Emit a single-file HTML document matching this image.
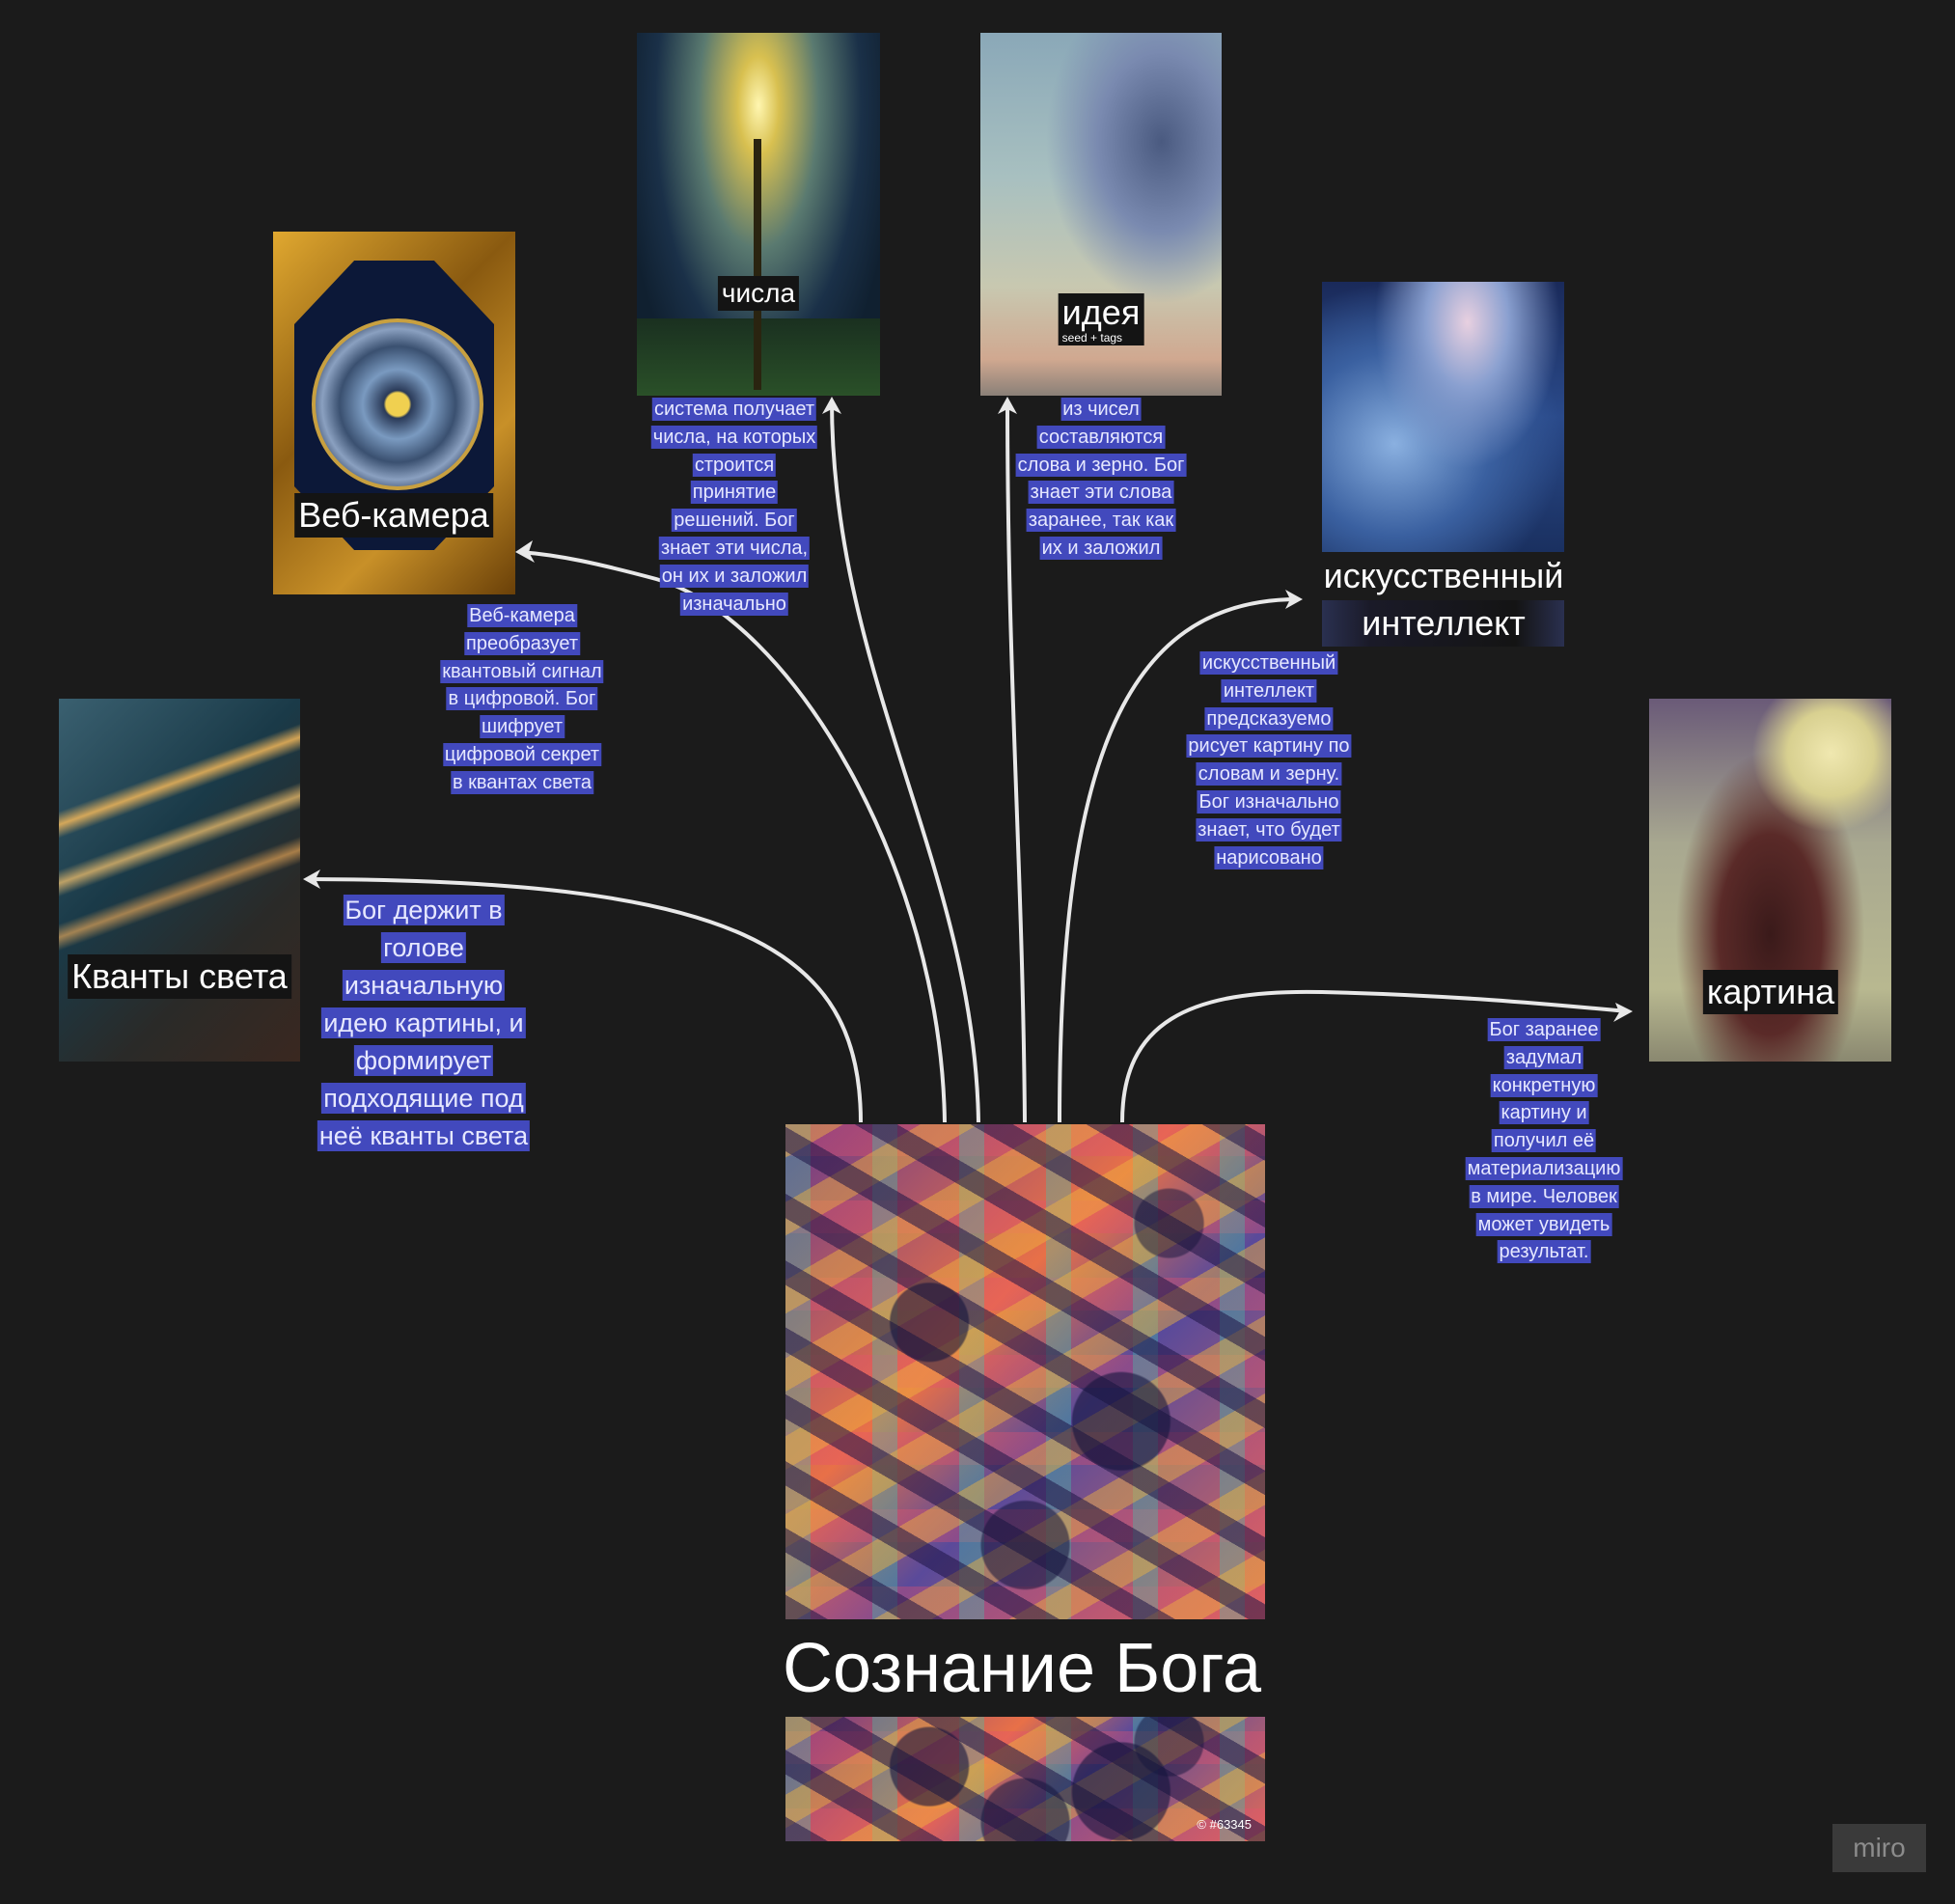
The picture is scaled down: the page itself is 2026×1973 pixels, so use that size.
<!DOCTYPE html>
<html><head><meta charset="utf-8">
<style>
html,body{margin:0;padding:0;}
body{width:2026px;height:1973px;background:#1b1b1b;position:relative;overflow:hidden;font-family:"Liberation Sans","DejaVu Sans",sans-serif;}
.img{position:absolute;overflow:hidden;}
.note{position:absolute;text-align:center;font-size:20px;line-height:28.8px;color:#e6e8ff;transform:translateX(-50%);white-space:nowrap;}
.note span{background:#4249bd;padding:1px 2px;box-decoration-break:clone;-webkit-box-decoration-break:clone;}
.big{font-size:27px;line-height:39px;}
.lab{position:absolute;transform:translate(-50%,-50%);background:#141414;color:#fff;font-size:36px;padding:0 4px;white-space:nowrap;line-height:46px;}
.cubes{background:
 radial-gradient(circle at 30% 40%,rgba(20,20,60,.6) 0 40px,transparent 42px),
 radial-gradient(circle at 70% 60%,rgba(20,20,60,.6) 0 50px,transparent 52px),
 radial-gradient(circle at 50% 85%,rgba(20,20,60,.55) 0 45px,transparent 47px),
 radial-gradient(circle at 80% 20%,rgba(20,20,60,.5) 0 35px,transparent 37px),
 repeating-linear-gradient(30deg,rgba(30,20,70,.55) 0 22px,transparent 22px 60px),
 repeating-linear-gradient(150deg,rgba(240,180,60,.45) 0 30px,transparent 30px 70px),
 repeating-linear-gradient(90deg,rgba(60,200,170,.35) 0 26px,transparent 26px 90px),
 repeating-linear-gradient(0deg,rgba(230,80,110,.35) 0 34px,transparent 34px 80px),
 linear-gradient(135deg,#6a3a8a,#e87048 40%,#5a4a9a 60%,#e06a58);}
</style></head><body>

<div class="img" style="left:283px;top:240px;width:251px;height:376px;background:linear-gradient(135deg,#e0a830,#8a5a10 40%,#c89028 70%,#6a4008);">
  <div style="position:absolute;left:22px;top:30px;width:207px;height:300px;background:#0c1838;clip-path:polygon(30% 0,70% 0,100% 22%,100% 78%,70% 100%,30% 100%,0 78%,0 22%);"></div>
  <div style="position:absolute;left:40px;top:90px;width:170px;height:170px;border-radius:50%;background:radial-gradient(circle,#f0d050 0 10%,#2a3a58 12%,#7a9ac0 30%,#3a5070 50%,#8aa0c0 65%,#2a3a58 80%);border:4px solid #c8a040;"></div>
</div>
<div class="lab" style="left:408px;top:534px;">Веб-камера</div>

<div class="img" style="left:660px;top:34px;width:252px;height:376px;background:radial-gradient(ellipse at 50% 20%,#fff6b0 0,#d8c050 12%,#5a7a70 35%,#1a3048 60%,#102030 80%),#102030;">
  <div style="position:absolute;left:0;right:0;bottom:0;height:80px;background:linear-gradient(#1a3020,#2a5028);"></div>
  <div style="position:absolute;left:121px;top:110px;width:8px;height:260px;background:#2a2410;"></div>
</div>
<div class="lab" style="left:786px;top:304px;font-size:28px;line-height:36px;">числа</div>

<div class="img" style="left:1016px;top:34px;width:250px;height:376px;background:radial-gradient(ellipse at 75% 30%,#4a5a80 0,#7a8ab0 25%,transparent 45%),linear-gradient(180deg,#8aa8b8,#a8c0c0 40%,#c8c8b0 70%,#d0a890 90%,#8a8078);"></div>
<div class="lab" style="left:1141px;top:331px;padding-bottom:14px;line-height:40px;">идея<div style="font-size:12px;line-height:12px;position:absolute;left:4px;bottom:2px;">seed + tags</div></div>

<div class="img" style="left:1370px;top:292px;width:251px;height:280px;background:radial-gradient(ellipse at 60% 15%,#e8d0e0 0,#8aa0d0 20%,transparent 45%),radial-gradient(ellipse at 30% 60%,#8ab0e0 0,#3a60a0 40%,transparent 70%),linear-gradient(#1a2a5a,#2a4a8a 50%,#1a3060);"></div>
<div style="position:absolute;left:1496px;top:597px;transform:translate(-50%,-50%);color:#fff;font-size:36px;white-space:nowrap;">искусственный</div>
<div style="position:absolute;left:1370px;top:622px;width:251px;height:48px;background:linear-gradient(90deg,#2a3050,#1a1a28 20%,#141414 80%,#2a3050);"></div>
<div style="position:absolute;left:1496px;top:646px;transform:translate(-50%,-50%);color:#fff;font-size:36px;white-space:nowrap;">интеллект</div>

<div class="img" style="left:61px;top:724px;width:250px;height:376px;background:linear-gradient(160deg,transparent 25%,rgba(255,190,90,.8) 28%,transparent 31%,transparent 38%,rgba(255,200,110,.7) 41%,transparent 44%,transparent 50%,rgba(255,180,90,.6) 53%,transparent 56%),linear-gradient(135deg,#3a6070,#1a3a48 40%,#2a2a28 70%,#3a2820);"></div>
<div class="lab" style="left:186px;top:1012px;">Кванты света</div>

<div class="img" style="left:1709px;top:724px;width:251px;height:376px;background:radial-gradient(circle at 75% 15%,#f0e8b0 0,#d8d090 12%,transparent 22%),radial-gradient(ellipse at 50% 65%,#3a1a1a 0,#5a2a28 30%,transparent 55%),linear-gradient(#6a5a78,#a8a890 40%,#b8b890 80%,#8a8870);"></div>
<div class="lab" style="left:1835px;top:1028px;">картина</div>

<div class="img cubes" style="left:814px;top:1165px;width:497px;height:513px;"></div>
<div style="position:absolute;left:1059px;top:1729px;transform:translate(-50%,-50%);color:#fff;font-size:72px;white-space:nowrap;">Сознание Бога</div>
<div class="img cubes" style="left:814px;top:1779px;width:497px;height:129px;">
 <div style="position:absolute;right:14px;bottom:10px;color:#fff;font-size:13px;">© #63345</div></div>

<svg width="2026" height="1973" style="position:absolute;left:0;top:0;" fill="none" stroke="#e8e8e8" stroke-width="4">
<path d="M892 1163 C892 980 760 912 318 911"/>
<path d="M979 1163 C975 900 820 640 680 600 C620 584 580 575 538 572"/>
<path d="M1014 1163 C1010 900 862 700 862 415"/>
<path d="M1062 1163 C1060 900 1044 700 1044 415"/>
<path d="M1098 1163 C1098 800 1160 621 1345 621"/>
<path d="M1163 1163 C1163 1060 1230 1025 1370 1028 C1500 1031 1600 1040 1686 1048"/>
</svg>
<svg width="2026" height="1973" style="position:absolute;left:0;top:0;" fill="#e8e8e8">
<path d="M314 911 l18 -10 l-5 10 l5 10z"/>
<path d="M534 572 l18 -12 l-4 12 l6 11z"/>
<path d="M862 411 l-10 18 l10 -5 l10 5z"/>
<path d="M1044 411 l-10 18 l10 -5 l10 5z"/>
<path d="M1350 621 l-18 -10 l5 10 l-5 10z"/>
<path d="M1692 1048 l-18 -9 l4 10 l-6 10z"/>
</svg>

<div class="note" style="left:761px;top:410px;"><span>система получает</span><br><span>числа, на которых</span><br><span>строится</span><br><span>принятие</span><br><span>решений. Бог</span><br><span>знает эти числа,</span><br><span>он их и заложил</span><br><span>изначально</span></div>
<div class="note" style="left:1141px;top:410px;"><span>из чисел</span><br><span>составляются</span><br><span>слова и зерно. Бог</span><br><span>знает эти слова</span><br><span>заранее, так как</span><br><span>их и заложил</span></div>
<div class="note" style="left:541px;top:624px;"><span>Веб-камера</span><br><span>преобразует</span><br><span>квантовый сигнал</span><br><span>в цифровой. Бог</span><br><span>шифрует</span><br><span>цифровой секрет</span><br><span>в квантах света</span></div>
<div class="note" style="left:1315px;top:673px;"><span>искусственный</span><br><span>интеллект</span><br><span>предсказуемо</span><br><span>рисует картину по</span><br><span>словам и зерну.</span><br><span>Бог изначально</span><br><span>знает, что будет</span><br><span>нарисовано</span></div>
<div class="note" style="left:1600px;top:1053px;"><span>Бог заранее</span><br><span>задумал</span><br><span>конкретную</span><br><span>картину и</span><br><span>получил её</span><br><span>материализацию</span><br><span>в мире. Человек</span><br><span>может увидеть</span><br><span>результат.</span></div>
<div class="note big" style="left:439px;top:924px;"><span>Бог держит в</span><br><span>голове</span><br><span>изначальную</span><br><span>идею картины, и</span><br><span>формирует</span><br><span>подходящие под</span><br><span>неё кванты света</span></div>

<div style="position:absolute;left:1899px;top:1890px;width:97px;height:50px;background:#3a3a3a;color:#8c8c8c;font-size:28px;line-height:50px;text-align:center;">miro</div>
</body></html>
